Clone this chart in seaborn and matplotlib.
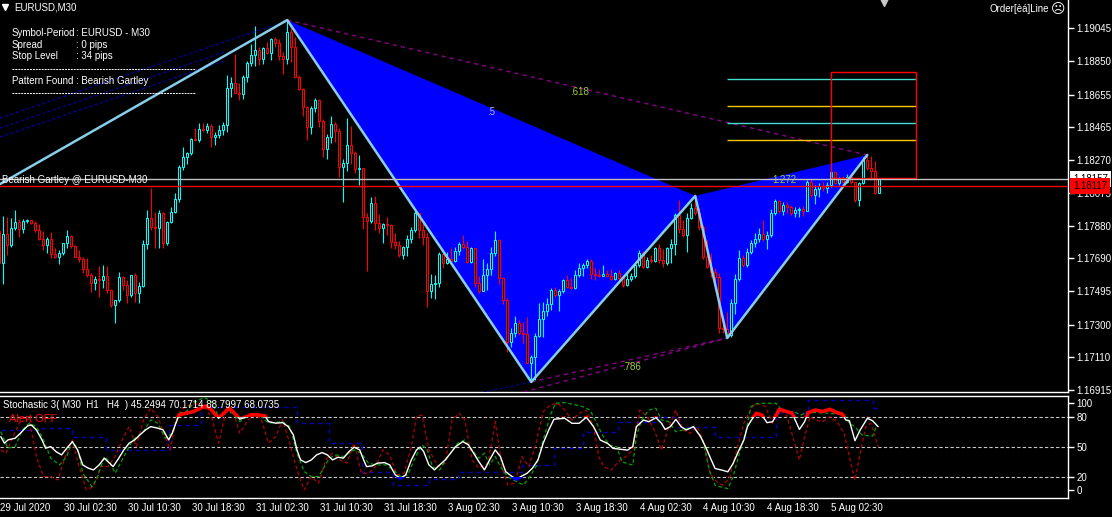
import numpy as np
import matplotlib
matplotlib.use('Agg')
import matplotlib.pyplot as plt
import matplotlib.transforms as mtransforms
from matplotlib.patches import Rectangle
from matplotlib.lines import Line2D
import seaborn as sns

W, H = 1112, 517

# EURUSD M30 candles, first entry is the half hidden bar at the left edge (29 Jul 18:30)
first_open = 1.17851
close = [1.17663, 1.17834, 1.17769, 1.17869, 1.17904, 1.17863, 1.17910, 1.17916, 1.17899, 1.17857,
         1.17804, 1.17769, 1.17804, 1.17716, 1.17698, 1.17722, 1.17781, 1.17822, 1.17763, 1.17698,
         1.17686, 1.17628, 1.17592, 1.17545, 1.17569, 1.17563, 1.17586, 1.17504, 1.17416, 1.17445,
         1.17580, 1.17533, 1.17474, 1.17592, 1.17486, 1.17527, 1.17775, 1.17928, 1.17875, 1.17869,
         1.17957, 1.17781, 1.17904, 1.17963, 1.18040, 1.18228, 1.18287, 1.18311, 1.18393, 1.18387,
         1.18452, 1.18446, 1.18470, 1.18405, 1.18417, 1.18446, 1.18476, 1.18694, 1.18723, 1.18664,
         1.18658, 1.18758, 1.18841, 1.18888, 1.18917, 1.18864, 1.18929, 1.18900, 1.18982, 1.18959,
         1.18882, 1.18864, 1.19024, 1.18935, 1.18758, 1.18688, 1.18582, 1.18464, 1.18576, 1.18623,
         1.18499, 1.18334, 1.18405, 1.18482, 1.18440, 1.18228, 1.18252, 1.18358, 1.18311, 1.18217,
         1.18222, 1.17934, 1.17910, 1.18016, 1.17899, 1.17869, 1.17893, 1.17887, 1.17787, 1.17769,
         1.17710, 1.17757, 1.17804, 1.17857, 1.17957, 1.17857, 1.17816, 1.17498, 1.17539, 1.17545,
         1.17716, 1.17663, 1.17686, 1.17675, 1.17734, 1.17775, 1.17757, 1.17669, 1.17751, 1.17545,
         1.17498, 1.17592, 1.17628, 1.17722, 1.17798, 1.17575, 1.17445, 1.17198, 1.17251, 1.17310,
         1.17251, 1.17245, 1.17074, 1.17109, 1.17233, 1.17333, 1.17380, 1.17421, 1.17504, 1.17474,
         1.17498, 1.17563, 1.17522, 1.17516, 1.17592, 1.17633, 1.17651, 1.17675, 1.17598, 1.17592,
         1.17586, 1.17598, 1.17586, 1.17569, 1.17604, 1.17575, 1.17533, 1.17569, 1.17586, 1.17651,
         1.17722, 1.17639, 1.17681, 1.17675, 1.17751, 1.17681, 1.17663, 1.17751, 1.17775, 1.17946,
         1.17863, 1.17828, 1.17928, 1.17987, 1.17957, 1.17875, 1.17698, 1.17639, 1.17610, 1.17580,
         1.17280, 1.17274, 1.17239, 1.17427, 1.17569, 1.17692, 1.17651, 1.17728, 1.17781, 1.17804,
         1.17834, 1.17804, 1.17828, 1.17957, 1.18028, 1.17969, 1.18005, 1.17993, 1.17957, 1.17975,
         1.17981, 1.17969, 1.18140, 1.18063, 1.18099, 1.18116, 1.18105, 1.18122, 1.18199, 1.18134,
         1.18158, 1.18140, 1.18169, 1.18140, 1.18034, 1.18134, 1.18270, 1.18222, 1.18205, 1.18075,
         1.18157]
high = [1.17887, 1.17940, 1.17934, 1.17928, 1.17975, 1.17922, 1.17922, 1.17922, 1.17916, 1.17910,
        1.17893, 1.17851, 1.17816, 1.17846, 1.17751, 1.17739, 1.17781, 1.17857, 1.17828, 1.17769,
        1.17739, 1.17698, 1.17692, 1.17604, 1.17586, 1.17645, 1.17651, 1.17645, 1.17510, 1.17445,
        1.17610, 1.17586, 1.17563, 1.17592, 1.17604, 1.17551, 1.17798, 1.17975, 1.18105, 1.17963,
        1.17975, 1.17963, 1.17910, 1.17993, 1.18075, 1.18240, 1.18346, 1.18317, 1.18399, 1.18458,
        1.18488, 1.18488, 1.18488, 1.18482, 1.18435, 1.18476, 1.18493, 1.18770, 1.18758, 1.18894,
        1.18723, 1.18770, 1.18853, 1.18953, 1.19059, 1.18935, 1.18935, 1.18965, 1.18988, 1.18994,
        1.18982, 1.18906, 1.19094, 1.19047, 1.18994, 1.18770, 1.18694, 1.18588, 1.18588, 1.18635,
        1.18629, 1.18511, 1.18423, 1.18529, 1.18493, 1.18458, 1.18275, 1.18517, 1.18470, 1.18323,
        1.18299, 1.18222, 1.17957, 1.18052, 1.18058, 1.17952, 1.17899, 1.17934, 1.17893, 1.17840,
        1.17793, 1.17763, 1.17828, 1.17875, 1.17969, 1.17957, 1.17899, 1.17840, 1.17598, 1.17592,
        1.17728, 1.17722, 1.17728, 1.17751, 1.17757, 1.17787, 1.17828, 1.17793, 1.17757, 1.17751,
        1.17586, 1.17686, 1.17663, 1.17757, 1.17851, 1.17804, 1.17580, 1.17457, 1.17280, 1.17351,
        1.17327, 1.17315, 1.17345, 1.17121, 1.17251, 1.17427, 1.17433, 1.17457, 1.17516, 1.17522,
        1.17510, 1.17569, 1.17592, 1.17575, 1.17622, 1.17663, 1.17663, 1.17686, 1.17686, 1.17633,
        1.17628, 1.17651, 1.17622, 1.17628, 1.17610, 1.17622, 1.17592, 1.17604, 1.17604, 1.17663,
        1.17739, 1.17734, 1.17698, 1.17710, 1.17757, 1.17775, 1.17745, 1.17757, 1.17804, 1.17957,
        1.18034, 1.17916, 1.17957, 1.18016, 1.18058, 1.17987, 1.17887, 1.17798, 1.17722, 1.17633,
        1.17604, 1.17339, 1.17374, 1.17451, 1.17598, 1.17739, 1.17710, 1.17751, 1.17798, 1.17840,
        1.17869, 1.17916, 1.17851, 1.17981, 1.18040, 1.18034, 1.18022, 1.18022, 1.18005, 1.17993,
        1.17993, 1.17999, 1.18152, 1.18158, 1.18122, 1.18134, 1.18140, 1.18140, 1.18211, 1.18205,
        1.18169, 1.18175, 1.18187, 1.18181, 1.18140, 1.18140, 1.18287, 1.18299, 1.18293, 1.18264,
        1.18164]
low = [1.17651, 1.17539, 1.17710, 1.17757, 1.17857, 1.17816, 1.17840, 1.17899, 1.17893, 1.17846,
       1.17798, 1.17739, 1.17722, 1.17692, 1.17692, 1.17657, 1.17710, 1.17751, 1.17751, 1.17698,
       1.17669, 1.17604, 1.17580, 1.17492, 1.17504, 1.17463, 1.17516, 1.17486, 1.17404, 1.17310,
       1.17433, 1.17504, 1.17427, 1.17463, 1.17433, 1.17427, 1.17522, 1.17745, 1.17857, 1.17751,
       1.17751, 1.17751, 1.17769, 1.17899, 1.17957, 1.18022, 1.18211, 1.18246, 1.18299, 1.18382,
       1.18376, 1.18435, 1.18429, 1.18346, 1.18358, 1.18399, 1.18417, 1.18435, 1.18641, 1.18664,
       1.18623, 1.18629, 1.18729, 1.18823, 1.18823, 1.18829, 1.18835, 1.18894, 1.18859, 1.18935,
       1.18859, 1.18776, 1.18835, 1.18847, 1.18753, 1.18682, 1.18529, 1.18387, 1.18423, 1.18552,
       1.18464, 1.18287, 1.18275, 1.18370, 1.18376, 1.18169, 1.18022, 1.18205, 1.18246, 1.18193,
       1.18122, 1.17863, 1.17616, 1.17899, 1.17857, 1.17840, 1.17781, 1.17828, 1.17751, 1.17745,
       1.17698, 1.17686, 1.17704, 1.17781, 1.17846, 1.17810, 1.17769, 1.17404, 1.17457, 1.17451,
       1.17522, 1.17633, 1.17657, 1.17669, 1.17669, 1.17710, 1.17745, 1.17663, 1.17663, 1.17522,
       1.17486, 1.17498, 1.17504, 1.17592, 1.17704, 1.17539, 1.17421, 1.17139, 1.17168, 1.17227,
       1.17239, 1.17192, 1.17074, 1.16962, 1.16974, 1.17227, 1.17227, 1.17351, 1.17386, 1.17463,
       1.17380, 1.17486, 1.17516, 1.17510, 1.17510, 1.17580, 1.17586, 1.17633, 1.17569, 1.17563,
       1.17580, 1.17586, 1.17580, 1.17563, 1.17563, 1.17551, 1.17522, 1.17527, 1.17557, 1.17575,
       1.17639, 1.17633, 1.17633, 1.17663, 1.17669, 1.17663, 1.17639, 1.17651, 1.17663, 1.17710,
       1.17840, 1.17816, 1.17728, 1.17922, 1.17946, 1.17857, 1.17686, 1.17633, 1.17580, 1.17545,
       1.17251, 1.17251, 1.17221, 1.17227, 1.17363, 1.17557, 1.17639, 1.17639, 1.17716, 1.17757,
       1.17787, 1.17793, 1.17745, 1.17816, 1.17946, 1.17957, 1.17946, 1.17957, 1.17946, 1.17934,
       1.17934, 1.17940, 1.17969, 1.18052, 1.18010, 1.18052, 1.18087, 1.18075, 1.18111, 1.18128,
       1.18122, 1.18134, 1.18134, 1.18128, 1.18022, 1.17999, 1.18128, 1.18211, 1.18152, 1.18069,
       1.18075]

date_labels = ['29 Jul 2020', '30 Jul 02:30', '30 Jul 10:30', '30 Jul 18:30', '31 Jul 02:30',
               '31 Jul 10:30', '31 Jul 18:30', '3 Aug 02:30', '3 Aug 10:30', '3 Aug 18:30',
               '4 Aug 02:30', '4 Aug 10:30', '4 Aug 18:30', '5 Aug 02:30']
price_ticks = [1.19045, 1.18850, 1.18655, 1.18465, 1.18270, 1.18075, 1.17880, 1.17690,
               1.17495, 1.17300, 1.17110, 1.16915]

# Gartley points X A B C D and the pivot before X
pattern_bars = [71, 132, 173, 181, 216]
pattern_price = [1.19094, 1.16962, 1.18058, 1.17221, 1.18299]
prior_bar, prior_price = -0.8, 1.18128
fib_prices = [1.18747, 1.18588, 1.18488, 1.18387]
box_bars = [207, 228.1]
box_prices = [1.18164, 1.18788]
bid_price = 1.18157
red_price = 1.18117

# stochastic 3 timeframes
w_bars = [-0.8, 0.1, 1.0, 2.8, 4.1, 5.9, 6.8, 8.1, 9.5, 10.4, 11.7, 13.0, 14.4, 15.7, 17.1, 18.4,
          19.7, 21.1, 22.4, 23.8, 25.1, 26.4, 27.3, 28.7, 30.0, 31.3, 32.7, 34.0, 35.4, 36.7, 38.5,
          39.8, 41.2, 42.1, 43.0, 43.8, 45.6, 47.4, 49.2, 50.5, 51.9, 53.7, 55.0, 56.3, 57.7, 59.0,
          60.4, 61.7, 63.5, 65.3, 66.2, 68.0, 69.7, 71.1, 72.4, 73.3, 74.2, 75.5, 76.9, 78.2, 79.6,
          80.9, 82.2, 83.6, 84.9, 86.3, 87.6, 89.0, 89.8, 90.7, 92.1, 93.4, 95.2, 96.5, 97.9, 99.2,
          100.5, 101.9, 103.2, 104.1, 105.0, 106.3, 107.7, 109.0, 110.4, 111.7, 113.0, 114.8, 116.2,
          117.5, 118.8, 120.2, 121.5, 122.9, 124.2, 125.5, 126.9, 128.2, 129.6, 130.9, 132.2, 133.6,
          134.9, 136.3, 137.6, 140.3, 142.1, 143.9, 145.7, 147.5, 149.2, 151.0, 152.4, 154.6, 156.0,
          157.3, 158.2, 160.0, 161.3, 163.1, 164.5, 165.4, 166.7, 168.1, 169.4, 170.7, 172.5, 174.3,
          175.7, 176.6, 177.9, 179.7, 181.1, 182.4, 183.7, 185.1, 186.0, 186.9, 188.2, 189.6, 190.9,
          192.3, 194.0, 195.8, 197.2, 199.0, 200.3, 201.2, 203.0, 204.8, 206.6, 208.4, 209.7, 210.6,
          211.5, 212.9, 214.2, 216.0, 217.3, 218.7]
w_vals = [60.1, 53.5, 56.8, 58.5, 63.5, 70.8, 71.8, 66.8, 56.8, 48.5, 50.1, 45.1, 41.8, 48.5, 55.1,
          46.8, 31.8, 28.5, 26.8, 31.8, 38.5, 33.5, 30.1, 38.5, 46.8, 53.5, 56.8, 61.8, 66.8, 70.1,
          68.5, 66.8, 56.8, 63.5, 73.5, 81.8, 83.5, 85.1, 88.5, 90.8, 86.8, 78.5, 83.5, 88.5, 83.5,
          77.5, 79.5, 81.8, 81.8, 80.8, 75.1, 73.5, 74.1, 70.1, 61.8, 46.8, 36.8, 34.1, 36.8, 41.8,
          44.1, 41.8, 36.8, 39.5, 38.5, 45.1, 49.5, 46.8, 38.5, 30.1, 30.8, 33.5, 34.1, 31.8, 21.8,
          18.5, 21.8, 36.8, 46.8, 49.5, 45.1, 31.8, 26.8, 31.8, 36.8, 43.5, 50.1, 55.1, 51.8, 43.5,
          35.1, 26.8, 36.8, 46.8, 40.1, 25.1, 20.8, 17.5, 20.8, 23.5, 28.5, 36.8, 53.5, 66.8, 77.5,
          78.4, 73.4, 73.4, 79.5, 70.0, 56.6, 53.3, 48.3, 47.3, 46.6, 50.0, 70.0, 76.7, 75.0, 79.0,
          73.4, 67.3, 70.0, 77.4, 70.0, 66.7, 70.0, 60.0, 48.3, 39.9, 28.2, 26.5, 24.9, 33.2, 44.9,
          56.6, 70.0, 76.0, 83.4, 81.7, 74.0, 75.0, 87.4, 85.1, 83.4, 67.3, 75.0, 84.1, 86.7, 85.1,
          87.4, 84.1, 82.7, 76.7, 76.0, 56.0, 66.7, 78.4, 76.0, 70.0]
g_bars = [-0.8, 1.0, 2.8, 4.6, 6.3, 8.1, 9.9, 11.7, 13.9, 15.7, 17.1, 18.4, 19.7, 22.0, 23.3, 25.1,
          26.4, 27.8, 30.0, 32.2, 34.9, 36.7, 38.5, 40.3, 42.1, 43.8, 45.6, 47.4, 50.1, 51.9, 53.7,
          55.5, 57.2, 59.0, 60.8, 62.1, 64.4, 66.2, 69.7, 71.5, 73.3, 75.1, 76.9, 78.7, 81.4, 83.1,
          84.9, 87.6, 89.4, 91.2, 93.0, 95.6, 97.4, 99.2, 101.0, 102.8, 104.6, 105.9, 107.2, 109.0,
          110.8, 113.5, 115.3, 117.1, 118.8, 120.2, 121.5, 122.9, 124.2, 126.0, 128.2, 130.0, 131.3,
          133.1, 134.9, 136.7, 138.0, 140.3, 143.0, 144.8, 146.6, 148.3, 149.7, 151.5, 153.3, 154.6,
          157.3, 158.2, 159.5, 161.3, 163.1, 164.5, 166.3, 168.1, 169.9, 172.5, 174.8, 176.6, 177.9,
          179.3, 181.1, 182.4, 184.2, 185.5, 186.9, 188.2, 189.6, 193.2, 194.9, 197.6, 199.4, 201.2,
          203.0, 206.6, 210.2, 211.5, 212.9, 214.7, 217.3, 218.2]
g_vals = [65.1, 48.5, 50.1, 66.8, 73.5, 70.1, 56.8, 38.5, 31.8, 40.1, 55.1, 48.5, 23.5, 10.1, 18.5,
          40.1, 35.1, 23.5, 40.1, 56.8, 65.1, 76.8, 73.5, 58.5, 63.5, 83.5, 85.1, 93.5, 99.5, 95.1,
          80.1, 85.1, 83.5, 75.1, 80.1, 83.5, 80.1, 73.5, 75.1, 70.1, 43.5, 25.1, 20.1, 20.1, 38.5,
          41.8, 40.1, 46.8, 43.5, 33.5, 31.8, 31.8, 26.8, 20.1, 21.8, 38.5, 51.8, 46.8, 30.1, 26.8,
          38.5, 53.5, 56.8, 46.8, 38.5, 43.5, 31.8, 40.1, 30.1, 20.1, 15.1, 11.8, 18.5, 30.1, 56.8,
          81.8, 93.4, 94.1, 91.8, 90.1, 86.7, 73.4, 61.6, 51.6, 50.0, 34.9, 31.6, 60.0, 76.7, 86.7,
          88.4, 76.7, 75.0, 65.0, 66.7, 70.0, 56.6, 24.9, 11.5, 9.8, 8.1, 19.8, 46.6, 63.3, 90.1,
          92.8, 93.4, 93.4, 85.1, 85.1, 81.7, 85.1, 84.1, 83.4, 81.7, 73.4, 70.0, 61.6, 60.6, 70.0]
r_bars = [-0.8, 0.5, 1.9, 4.6, 6.3, 8.1, 9.9, 11.7, 13.5, 15.3, 17.1, 18.8, 20.6, 22.4, 24.2, 26.0,
          27.8, 29.6, 31.3, 33.1, 34.9, 36.7, 38.5, 40.3, 41.6, 43.0, 44.3, 46.5, 49.2, 51.9, 53.7,
          55.5, 57.2, 59.0, 60.8, 62.6, 64.4, 66.2, 68.0, 69.7, 71.5, 73.3, 75.1, 76.9, 78.7, 80.5,
          82.2, 84.0, 85.8, 87.6, 89.4, 91.2, 93.0, 94.7, 96.5, 98.3, 100.1, 101.9, 103.2, 104.6,
          106.3, 108.6, 110.4, 112.1, 113.9, 115.3, 117.1, 118.8, 121.1, 122.9, 124.6, 126.0, 127.8,
          129.6, 131.3, 133.1, 134.9, 136.7, 138.5, 140.3, 142.1, 143.9, 145.7, 147.5, 148.8, 150.1,
          151.9, 153.7, 155.5, 157.3, 159.1, 160.9, 162.7, 164.5, 166.3, 168.1, 169.9, 171.6, 173.4,
          175.2, 176.6, 178.4, 179.7, 181.5, 183.3, 185.1, 186.9, 188.2, 190.5, 192.3, 194.0, 195.8,
          197.6, 199.0, 200.3, 201.7, 203.0, 204.8, 206.6, 208.4, 210.2, 211.5, 212.9, 214.2, 215.6,
          216.9, 218.2, 218.7]
r_vals = [46.8, 43.5, 56.8, 80.1, 76.8, 40.1, 20.1, 20.1, 16.8, 40.1, 56.8, 30.1, 6.8, 10.1, 30.1,
          30.1, 40.1, 56.8, 70.1, 50.1, 76.8, 88.5, 80.1, 60.1, 46.8, 76.8, 86.8, 91.8, 93.5, 80.1,
          53.5, 85.1, 86.8, 63.5, 75.1, 83.5, 76.8, 53.5, 60.1, 76.8, 53.5, 26.8, 6.8, 20.1, 13.5,
          36.8, 43.5, 36.8, 33.5, 53.5, 23.5, 23.5, 30.1, 46.8, 41.8, 21.8, 23.5, 50.1, 80.1, 81.8,
          46.8, 30.1, 33.5, 76.8, 83.5, 76.8, 36.8, 28.5, 33.5, 75.1, 30.1, 11.8, 13.5, 40.1, 30.1,
          53.5, 85.1, 91.8, 93.4, 86.7, 76.7, 83.4, 86.7, 70.0, 39.9, 29.9, 26.5, 34.9, 39.9, 46.6,
          86.7, 80.0, 66.7, 46.6, 70.0, 86.7, 66.7, 63.3, 70.0, 53.3, 23.2, 14.8, 11.5, 18.2, 46.6,
          73.4, 88.4, 93.4, 90.1, 73.4, 86.7, 81.7, 56.6, 36.6, 60.0, 80.0, 76.7, 75.0, 80.0, 75.0,
          63.3, 39.9, 16.5, 43.3, 70.0, 73.4, 56.6, 50.0]
b_bars = [-0.8, 9.5, 17.1, 25.5, 41.2, 49.2, 73.3, 81.4, 89.6, 97.4, 106.3, 113.5, 129.6, 137.6,
          144.8, 153.7, 163.6, 169.0, 177.9, 193.2, 201.2, 217.3, 219.0]
b_vals = [66.8, 68.5, 60.1, 46.8, 71.8, 90.1, 74.1, 53.5, 25.1, 11.8, 17.5, 25.1, 31.8, 48.3, 65.0,
          75.0, 80.0, 70.0, 60.0, 83.4, 96.8, 88.4, 88.4]

sns.set_theme(style='dark', rc={'axes.facecolor': 'black', 'figure.facecolor': 'black'})
plt.rcParams['font.family'] = ['Liberation Sans', 'DejaVu Sans']
FS = 7

fig = plt.figure(figsize=(W / 100, H / 100), dpi=100)
fig.patch.set_facecolor('black')
ax = fig.add_axes([0, 1 - 392 / H, 1068 / W, 392 / H])
ax2 = fig.add_axes([0, 1 - 497.5 / H, 1068 / W, (497.5 - 395.5) / H])
for a in (ax, ax2):
    a.set_facecolor('black')
    a.set_xlim(-0.825, 266.2)
    a.grid(False)
    for s in a.spines.values():
        s.set_color('white')
        s.set_linewidth(1)
    a.spines['left'].set_visible(False)
ax.spines['top'].set_visible(False)
ax.set_ylim(1.16903, 1.19212)

# --- candles
c = np.array(close)
o = np.r_[first_open, c[:-1]]
bars = np.arange(-1, len(c) - 1)
cols = np.where(c >= o, '#00FFFF', '#FF0000')
ax.vlines(bars, low, high, colors=cols, lw=0.8, zorder=3)
ax.bar(bars, np.abs(c - o), bottom=np.minimum(o, c), width=0.5, color='black',
       edgecolor=cols, linewidth=0.75, zorder=4)

# --- harmonic pattern
xb, pb = pattern_bars, pattern_price
ax.fill([xb[0], xb[1], xb[2]], [pb[0], pb[1], pb[2]], color='#0000FF', lw=0, zorder=1)
ax.fill([xb[2], xb[3], xb[4]], [pb[2], pb[3], pb[4]], color='#0000FF', lw=0, zorder=1)
ax.plot([prior_bar] + xb, [prior_price] + pb, color='#87CEEB', lw=1.8, zorder=6)
ax.plot([xb[0], xb[4]], [pb[0], pb[4]], color='#8B008B', lw=1, ls=(0, (3, 3)), zorder=5)
ax.plot([xb[1], xb[3]], [pb[1], pb[3]], color='#8B008B', lw=1, ls=(0, (3, 3)), zorder=5)
ax.plot([128, xb[3]], [1.16890, pb[3]], color='#8B008B', lw=1, ls=(0, (3, 3)), zorder=5)
ax.plot([112, xb[1]], [1.16862, pb[1]], color='#00008B', lw=1, ls=(0, (2, 2)), zorder=5)
# older channel lines top left
ax.plot([-0.8, 67.9], [1.18517, 1.19065], color='#0000A0', lw=1, ls=(0, (2, 2)), zorder=5)
ax.plot([-0.8, 55.4], [1.18458, 1.18906], color='#0000A0', lw=1, ls=(0, (2, 2)), zorder=5)
ax.plot([-0.8, 55.4], [1.18405, 1.18853], color='#0000A0', lw=1, ls=(0, (2, 2)), zorder=5)

ax.text(121.9, 1.18552, '.5', color='#A9BCD6', fontsize=FS, ha='center', va='center', zorder=7)
ax.text(144.2, 1.18670, '.618', color='#9ACD32', fontsize=FS, ha='center', va='center', zorder=7)
ax.text(157.2, 1.17050, '.786', color='#9ACD32', fontsize=FS, ha='center', va='center', zorder=7)
ax.text(195.2, 1.18152, '1.272', color='#9ACD32', fontsize=FS, ha='center', va='center', zorder=7)

# target zone
ax.hlines(fib_prices, xb[3], box_bars[1], colors=['#40E0D0', '#FFC800', '#40E0D0', '#FFC800'],
          lw=1, zorder=5)
ax.add_patch(Rectangle((box_bars[0], box_prices[0]), box_bars[1] - box_bars[0],
                       box_prices[1] - box_prices[0], fill=False, ec='#FF0000', lw=1, zorder=5))

ax.axhline(bid_price, color='#C0C0C0', lw=1, zorder=6)
ax.axhline(red_price, color='#FF0000', lw=1, zorder=6)

ax.set_xticks([])
ax.yaxis.tick_right()
ax.set_yticks(price_ticks)
ax.set_yticklabels([f'{p:.5f}' for p in price_ticks])
ax.tick_params(axis='y', length=4, width=1, pad=2, colors='white', labelsize=FS)

tr = mtransforms.blended_transform_factory(ax.transAxes, ax.transData)
ax.text(1.0047, bid_price, f'{bid_price:.5f}', transform=tr, color='black', fontsize=FS,
        va='center', ha='left', clip_on=False, zorder=10,
        bbox=dict(boxstyle='square,pad=0.3', fc='white', ec='none'))
ax.text(1.0047, red_price, f'{red_price:.5f}', transform=tr, color='black', fontsize=FS,
        va='center', ha='left', clip_on=False, zorder=11,
        bbox=dict(boxstyle='square,pad=0.3', fc='#FF0000', ec='none'))

# --- stochastic pane
ax2.set_ylim(-0.8, 101.2)
for lvl in (20, 50, 80):
    ax2.axhline(lvl, color='#C8C8C8', lw=0.8, ls=(0, (3, 2)), zorder=1)
ax2.step(b_bars, b_vals, where='post', color='#0000C0', lw=1, ls=(0, (3, 3)), zorder=2)
sns.lineplot(x=r_bars, y=r_vals, ax=ax2, color='#B00000', lw=0.9, linestyle=(0, (3, 2)),
             estimator=None, sort=False, zorder=3)
sns.lineplot(x=g_bars, y=g_vals, ax=ax2, color='#00A000', lw=0.9, linestyle=(0, (3, 2)),
             estimator=None, sort=False, zorder=3)
sns.lineplot(x=w_bars, y=w_vals, ax=ax2, color='white', lw=1, estimator=None, sort=False, zorder=4)
sns.lineplot(x=w_bars, y=w_vals, ax=ax2, color='#FF0000', lw=2.6, estimator=None, sort=False, zorder=5)
ax2.lines[-1].set_clip_path(Rectangle((-5, 80), 300, 40, transform=ax2.transData))
sns.lineplot(x=w_bars, y=w_vals, ax=ax2, color='#0000FF', lw=2.6, estimator=None, sort=False, zorder=5)
ax2.lines[-1].set_clip_path(Rectangle((-5, -10), 300, 30, transform=ax2.transData))
ax2.set_xlabel('')
ax2.set_ylabel('')

ax2.yaxis.tick_right()
ax2.set_yticks([6.4, 20, 50, 80, 94])
ax2.set_yticklabels(['0', '20', '50', '80', '100'])
ax2.tick_params(axis='y', length=4, width=1, pad=2, colors='white', labelsize=FS)
ax2.set_xticks(np.arange(-1, 16 * len(date_labels) - 1, 16))
ax2.set_xticklabels(date_labels)
ax2.tick_params(axis='x', length=3, width=1, pad=1, colors='white', labelsize=FS)
for lbl in ax2.get_xticklabels():
    lbl.set_ha('left')


def ftext(x, y, s, **kw):
    kw.setdefault('color', 'white')
    kw.setdefault('fontsize', FS)
    fig.text(x / W, 1 - y / H, s, va='center', ha=kw.pop('ha', 'left'), **kw)


ftext(3, 405, 'Stochastic 3( M30  H1   H4  ) 45.2494 70.1714 88.7997 68.0735')
ftext(9, 418.5, 'Alert OFF', color='#FF0000', fontsize=8)

ftext(14, 7.5, 'EURUSD,M30')
fig.add_artist(Line2D([5 / W], [1 - 6.5 / H], marker='v', ms=4, color='white', ls='none'))
fig.add_artist(Line2D([884 / W], [1 - 1.5 / H], marker='v', ms=6, color='#C8C8C8', ls='none'))

info = [('Symbol-Period', ': EURUSD - M30', 32.5), ('Spread', ': 0 pips', 44.5),
        ('Stop Level', ': 34 pips', 56.5), ('Pattern Found', ': Bearish Gartley', 80.5)]
for k, v, y in info:
    ftext(12, y, k)
    ftext(76.5, y, v)
for y in (69, 93):
    fig.add_artist(Line2D([12 / W, 195 / W], [1 - y / H] * 2, color='white', lw=0.7,
                          ls=(0, (2, 1))))

ftext(2, 180, 'Bearish Gartley @ EURUSD-M30', zorder=8)
ftext(1049, 9, 'Order[èá]Line', ha='right')
ftext(1058, 9, '\u2639', ha='center', fontsize=10)

fig.savefig('out.png', dpi=100, facecolor='black')
